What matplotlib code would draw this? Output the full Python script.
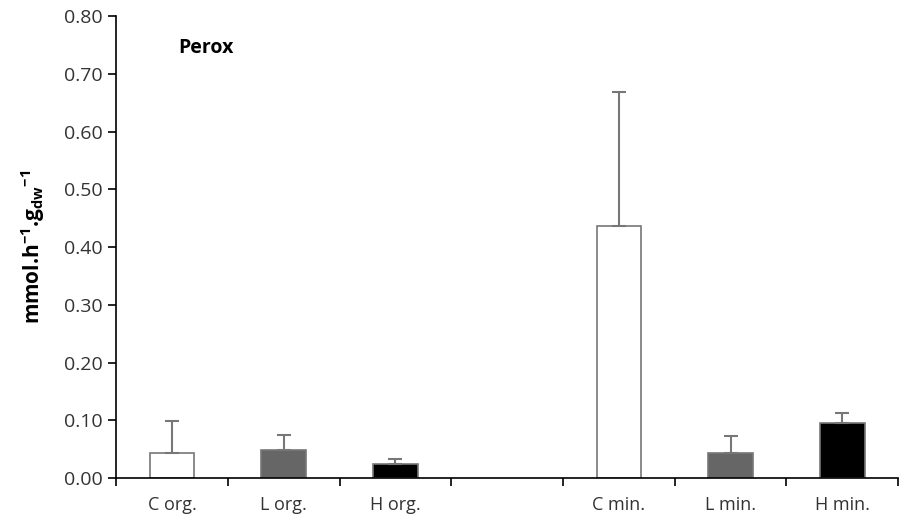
import matplotlib.pyplot as plt
import numpy as np

plt.rcParams['font.family'] = ['Open Sans', 'DejaVu Sans']
plt.rcParams['mathtext.default'] = 'regular'

categories = ['C org.', 'L org.', 'H org.', '', 'C min.', 'L min.', 'H min.']
means = [0.044, 0.048, 0.024, np.nan, 0.436, 0.044, 0.095]
errors = [0.055, 0.027, 0.009, np.nan, 0.232, 0.028, 0.017]
colours = ['white', '#666666', 'black', 'white', 'white', '#666666', 'black']

fig = plt.figure(figsize=(9, 5.19), dpi=100)
ax = fig.add_axes([0.129, 0.079, 0.869, 0.890])

x = np.arange(len(categories))
ax.bar(x, means, width=0.4, color=colours, edgecolor='#777777', linewidth=1.2)
ax.errorbar(x, means, yerr=[np.zeros(len(errors)), errors], fmt='none',
            ecolor='#777777', elinewidth=1.5, capsize=5, capthick=1.5)

ax.set_xlim(-0.5, len(categories) - 0.5)
ax.set_ylim(0, 0.8)
ax.set_yticks(np.arange(0, 0.81, 0.1))
ax.set_yticklabels(['%.2f' % v for v in np.arange(0, 0.81, 0.1)], fontsize=14,
                   color='#333333')

# labels centred in slots, tick marks at slot boundaries
ax.set_xticks(np.arange(-0.5, len(categories)), minor=False)
ax.set_xticklabels([])
ax.set_xticks(x, minor=True)
ax.set_xticklabels(categories, minor=True, fontsize=13, color='#333333')
ax.tick_params(axis='x', which='minor', length=0, pad=13)
ax.tick_params(axis='x', which='major', direction='out', length=6, width=1.2)
ax.tick_params(axis='y', direction='out', length=6, width=1.2)

for s in ['top', 'right']:
    ax.spines[s].set_visible(False)
for s in ['left', 'bottom']:
    ax.spines[s].set_linewidth(1.2)

ax.set_ylabel(r'mmol.h$^{-1}$.g$_{dw}$$^{-1}$',
              fontsize=15, fontweight='bold', labelpad=12)
ax.text(0.08, 0.93, 'Perox', transform=ax.transAxes, fontsize=14,
        fontweight='bold', va='center')

plt.savefig('out.png', dpi=100)
